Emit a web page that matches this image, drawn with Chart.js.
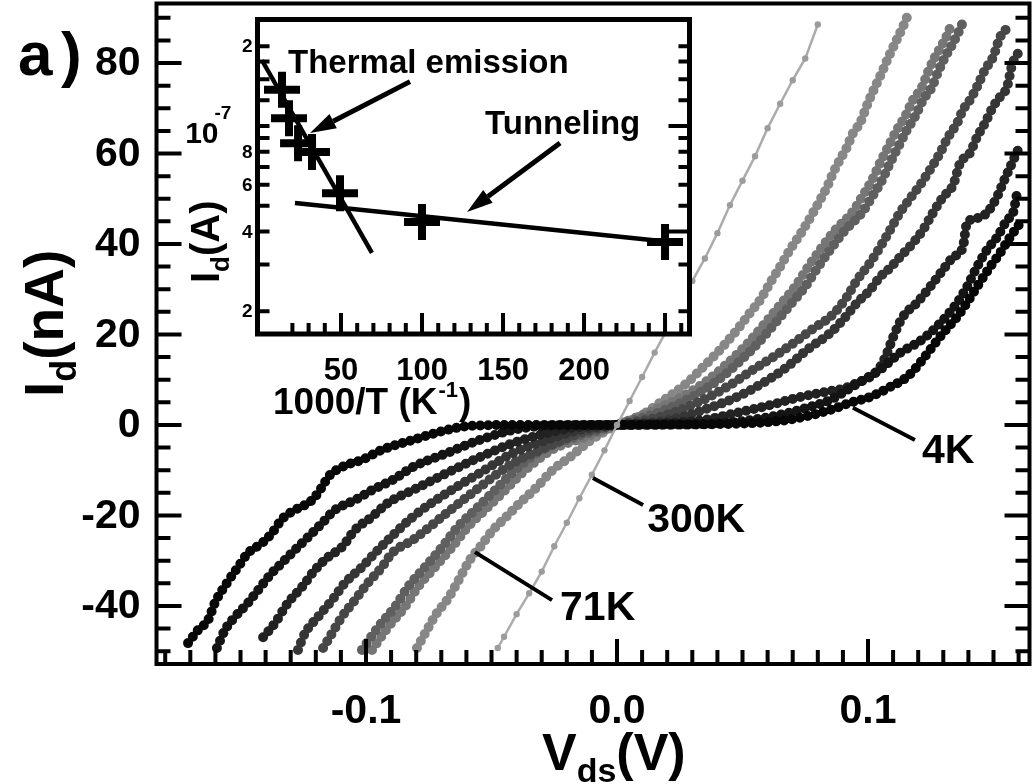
<!DOCTYPE html>
<html>
<head>
<meta charset="utf-8">
<title>Id vs Vds</title>
<script src="https://cdn.jsdelivr.net/npm/chart.js@4.4.1/dist/chart.umd.min.js"></script>
<style>
  html, body { margin: 0; padding: 0; background: #fff; }
  #wrap { position: relative; width: 1036px; height: 784px; overflow: hidden; }
  #main { position: absolute; left: 0; top: 0; }
  #inset { position: absolute; left: 170px; top: 10px; }
</style>
</head>
<body>
<div id="wrap">
  <canvas id="main" width="1036" height="784"></canvas>
  <canvas id="inset" width="530" height="420"></canvas>
</div>
<script>
const FONT = '"Liberation Sans", Arial, Helvetica, sans-serif';

// ---------- Main panel: I-V curves (V in volts, I in nA) ----------
const v300K = [-0.0475, -0.045, -0.040, -0.035, -0.030, -0.025, -0.020, -0.015, -0.010, -0.005, 0, 0.005, 0.010, 0.015, 0.020, 0.025, 0.030, 0.035, 0.040, 0.045, 0.050, 0.055, 0.060, 0.065, 0.070, 0.075, 0.080];
const i300K = [-49.3, -46.8, -41.8, -37.2, -32.4, -26.8, -21.6, -16.2, -11.0, -5.6, 0, 5.3, 10.6, 16.0, 21.2, 26.6, 31.8, 36.8, 42.4, 48.6, 54.0, 59.4, 65.6, 71.0, 76.2, 81.0, 88.5];

const v71K = [-0.0797, -0.0757, -0.0717, -0.0677, -0.0637, -0.0586, -0.0546, -0.0494, -0.0454, -0.0386, -0.0319, -0.0255, -0.0187, -0.0120, -0.0060, 0, 0.0080, 0.0171, 0.0279, 0.0343, 0.0410, 0.0478, 0.0530, 0.0570, 0.0610, 0.0649, 0.0689, 0.0741, 0.0781, 0.0809, 0.0837, 0.0861, 0.0888, 0.0916, 0.0940, 0.0968, 0.1000, 0.1028, 0.1056, 0.1080, 0.1108, 0.1139, 0.1159];
const i71K = [-49.3, -45.3, -41.5, -38.7, -34.9, -29.8, -27.0, -23.2, -21.0, -17.2, -13.7, -9.9, -7.1, -4.0, -1.8, 0, 1.6, 4.9, 9.3, 12.8, 16.6, 21.0, 24.8, 27.6, 31.4, 34.9, 38.7, 43.1, 46.9, 49.7, 52.6, 55.7, 58.6, 61.4, 64.5, 66.7, 71.2, 74.7, 78.0, 81.1, 84.4, 88.0, 90.6];

const vC1 = [-0.0976, -0.0912, -0.0845, -0.0793, -0.0725, -0.0657, -0.0594, -0.0526, -0.0446, -0.0378, -0.0259, -0.0127, 0, 0.0123, 0.0259, 0.0362, 0.0442, 0.0522, 0.0590, 0.0657, 0.0709, 0.0761, 0.0817, 0.0868, 0.0936, 0.0976, 0.1016, 0.1048, 0.1080, 0.1115, 0.1147, 0.1179, 0.1215, 0.1239, 0.1267, 0.1295, 0.1319, 0.1335];
const iC1 = [-49.7, -44.7, -40.2, -35.8, -31.4, -27.0, -22.5, -18.8, -14.4, -10.6, -5.5, -2.7, 0, 2.7, 6.2, 9.9, 13.7, 18.1, 22.5, 27.0, 30.5, 34.9, 39.3, 43.0, 46.9, 50.4, 54.1, 57.9, 61.4, 65.2, 68.1, 71.8, 74.7, 78.0, 81.3, 84.0, 86.6, 89.1];

const vC2 = [-0.1016, -0.0952, -0.0885, -0.0833, -0.0765, -0.0697, -0.0634, -0.0566, -0.0486, -0.0418, -0.0299, -0.0167, 0, 0.0163, 0.0299, 0.0402, 0.0482, 0.0562, 0.0630, 0.0697, 0.0749, 0.0801, 0.0857, 0.0908, 0.0976, 0.1016, 0.1056, 0.1088, 0.1120, 0.1155, 0.1187, 0.1219, 0.1255, 0.1279, 0.1307, 0.1335, 0.1359, 0.1375];
const iC2 = [-49.7, -44.7, -40.2, -35.8, -31.4, -27.0, -22.5, -18.8, -14.4, -10.6, -5.5, -2.7, 0, 2.7, 6.2, 9.9, 13.7, 18.1, 22.5, 27.0, 30.5, 34.9, 39.3, 43.0, 46.9, 50.4, 54.1, 57.9, 61.4, 65.2, 68.1, 71.8, 74.7, 78.0, 81.3, 84.0, 86.6, 88.6];

const vD = [-0.1171, -0.1135, -0.1096, -0.1044, -0.0992, -0.0936, -0.0896, -0.0813, -0.0677, -0.0546, -0.0414, -0.0279, -0.0147, 0, 0.0171, 0.0319, 0.0438, 0.0542, 0.0622, 0.0701, 0.0769, 0.0861, 0.0916, 0.0956, 0.1008, 0.1048, 0.1088, 0.1127, 0.1167, 0.1207, 0.1247, 0.1287, 0.1319, 0.1355, 0.1378, 0.1406, 0.1434, 0.1466, 0.1498, 0.1526, 0.1554];
const iD = [-49.3, -46.0, -42.4, -38.7, -34.9, -31.4, -28.3, -25.4, -19.4, -13.7, -8.4, -4.9, -1.8, 0, 1.8, 4.9, 8.4, 12.2, 15.0, 18.0, 20.8, 24.5, 28.3, 32.0, 35.8, 39.3, 43.1, 46.9, 50.0, 53.0, 56.4, 60.1, 63.6, 66.7, 69.6, 71.8, 74.7, 78.5, 81.3, 85.7, 87.7];

const vE = [-0.1271, -0.1243, -0.1191, -0.1135, -0.1084, -0.1016, -0.0964, -0.0912, -0.0813, -0.0677, -0.0546, -0.0414, -0.0279, -0.0147, 0, 0.0211, 0.0343, 0.0478, 0.0582, 0.0677, 0.0757, 0.0849, 0.0900, 0.0956, 0.1008, 0.1048, 0.1088, 0.1127, 0.1179, 0.1219, 0.1259, 0.1299, 0.1339, 0.1367, 0.1406, 0.1434, 0.1466, 0.1498, 0.1526, 0.1554, 0.1574, 0.1598];
const iE = [-49.7, -46.0, -42.4, -38.7, -34.9, -31.4, -28.3, -25.4, -20.3, -15.0, -10.6, -6.2, -3.3, -1.1, 0, 1.1, 3.3, 6.2, 9.3, 12.8, 16.6, 20.3, 23.2, 27.0, 29.8, 32.7, 34.7, 37.1, 40.2, 43.1, 46.9, 50.4, 53.0, 57.9, 60.1, 63.6, 66.7, 70.3, 72.5, 74.7, 79.6, 82.2];

const vF = [-0.1410, -0.1363, -0.1311, -0.1255, -0.1203, -0.1151, -0.1096, -0.1044, -0.0976, -0.0912, -0.0813, -0.0677, -0.0546, -0.0414, -0.0279, -0.0147, 0, 0.0343, 0.0478, 0.0610, 0.0717, 0.0849, 0.0900, 0.0956, 0.1008, 0.1048, 0.1076, 0.1100, 0.1139, 0.1195, 0.1247, 0.1299, 0.1339, 0.1378, 0.1394, 0.1434, 0.1474, 0.1514, 0.1538, 0.1574, 0.1598];
const iF = [-46.9, -43.8, -39.3, -35.8, -32.0, -29.2, -27.0, -23.2, -20.3, -17.2, -14.4, -10.6, -7.1, -4.0, -1.8, -0.4, 0, 1.1, 2.7, 4.4, 6.0, 7.5, 8.0, 9.3, 10.6, 12.8, 15.9, 19.4, 23.9, 27.0, 30.5, 34.3, 37.1, 39.3, 44.6, 45.7, 46.9, 50.4, 53.5, 57.9, 60.8];

const vG = [-0.1594, -0.1562, -0.1522, -0.1470, -0.1430, -0.1375, -0.1335, -0.1283, -0.1231, -0.1175, -0.1124, -0.1044, -0.0976, -0.0896, -0.0813, -0.0677, -0.0546, -0.0414, -0.0279, 0, 0.0410, 0.0610, 0.0769, 0.0849, 0.0916, 0.0980, 0.1048, 0.1127, 0.1195, 0.1247, 0.1299, 0.1355, 0.1394, 0.1434, 0.1474, 0.1514, 0.1554, 0.1578, 0.1594];
const iG = [-49.3, -45.3, -42.4, -39.3, -36.5, -32.7, -30.5, -27.6, -24.8, -21.7, -18.8, -16.6, -14.4, -12.2, -9.3, -6.2, -3.3, -1.1, -0.2, 0, 0.4, 1.8, 4.0, 5.5, 7.7, 9.9, 12.2, 15.9, 18.1, 20.3, 23.2, 27.0, 30.5, 34.9, 38.7, 41.5, 45.3, 46.9, 51.3];

const v4K = [-0.1709, -0.1669, -0.1629, -0.1602, -0.1554, -0.1510, -0.1470, -0.1414, -0.1375, -0.1331, -0.1283, -0.1215, -0.1175, -0.1151, -0.1096, -0.1016, -0.0936, -0.0813, -0.0677, -0.0586, -0.0400, -0.0200, 0, 0.0200, 0.0410, 0.0677, 0.0849, 0.0928, 0.1008, 0.1088, 0.1155, 0.1207, 0.1247, 0.1299, 0.1355, 0.1394, 0.1434, 0.1486, 0.1526, 0.1566, 0.1606];
const i4K = [-48.2, -45.3, -43.1, -39.3, -34.9, -31.4, -28.3, -26.1, -23.9, -20.6, -18.8, -16.6, -13.7, -11.5, -9.3, -7.7, -5.5, -3.3, -1.1, -0.2, 0, 0, 0, 0.1, 0.2, 1.1, 3.3, 4.9, 6.2, 8.4, 10.6, 13.7, 16.6, 20.3, 23.9, 27.0, 30.5, 34.9, 38.0, 41.5, 44.6];

// axis ticks of the main panel
const xTickLabels = [-0.1, 0.0, 0.1];
const yTickLabels = [-40, -20, 0, 20, 40, 60, 80];

// ---------- Inset: Id at fixed bias vs 1000/T ----------
const insetInvT = [13.6, 17.9, 23.5, 32.1, 49.4, 100.0, 250.0];
const insetId = [1.37e-7, 1.07e-7, 8.6e-8, 7.98e-8, 5.58e-8, 4.34e-8, 3.65e-8];
const thermalFitT = [1.2, 69.1];
const thermalFitI = [1.77e-7, 3.32e-8];
const tunnelFitT = [21.6, 259.3];
const tunnelFitI = [5.12e-8, 3.62e-8];
const insetXTickLabels = [50, 100, 150, 200];
const insetYTickValues = [2e-7, 1e-7, 8e-8, 6e-8, 4e-8, 2e-8];
const insetYTickLabels = ['2', '10', '8', '6', '4', '2'];
const insetYMinor = [2e-7, 1.75e-7, 1.5e-7, 1.25e-7, 1e-7, 9e-8, 8e-8, 7e-8, 6e-8, 5e-8, 4e-8, 3e-8, 2e-8];

// annotation callouts (data coordinates)
const mainNotes = [
  { text: '4K', from: [0.094, 3.8], to: [0.1187, -3.3], at: [0.1215, -8.4] },
  { text: '300K', from: [-0.0096, -11.7], to: [0.0104, -17.7], at: [0.012, -23.6] },
  { text: '71K', from: [-0.0566, -28.1], to: [-0.0259, -38.7], at: [-0.0227, -43.1] }
];
const insetNotes = [
  { text: 'Thermal emission', at: [17.3, 1.585e-7], from: [92.6, 1.47e-7], to: [30.9, 9.4e-8] },
  { text: 'Tunneling', at: [138.9, 9.33e-8], from: [185.2, 8.63e-8], to: [127.8, 4.74e-8] }
];

// --- helpers ---
function pts(v, i) {
  return v.map((vv, k) => ({ x: vv, y: i[k] }));
}

function dotted(label, v, i, color) {
  return {
    label, data: pts(v, i), showLine: true,
    borderColor: color, borderWidth: 10,
    borderDash: [0, 8], borderCapStyle: 'round', borderJoinStyle: 'round',
    cubicInterpolationMode: 'monotone',
    pointRadius: 0, pointHoverRadius: 0
  };
}

// draw a run of text pieces [text, size, dy] from left to right
function runs(ctx, x, y, parts) {
  let cx = x;
  ctx.textAlign = 'left';
  ctx.textBaseline = 'alphabetic';
  for (const [t, size, dy] of parts) {
    ctx.font = `bold ${size}px ${FONT}`;
    ctx.fillText(t, cx, y + dy);
    cx += ctx.measureText(t).width;
  }
  return cx;
}

function arrow(ctx, x1, y1, x2, y2) {
  const ang = Math.atan2(y2 - y1, x2 - x1);
  const hl = 26, hw = 8;
  const bx = x2 - Math.cos(ang) * hl, by = y2 - Math.sin(ang) * hl;
  ctx.beginPath();
  ctx.moveTo(x1, y1);
  ctx.lineTo(bx, by);
  ctx.stroke();
  ctx.beginPath();
  ctx.moveTo(x2, y2);
  ctx.lineTo(bx + Math.sin(ang) * hw, by - Math.cos(ang) * hw);
  ctx.lineTo(bx - Math.sin(ang) * hw, by + Math.cos(ang) * hw);
  ctx.closePath();
  ctx.fill();
}

// ---------- Main decorations ----------
const mainDecor = {
  id: 'mainDecor',
  afterDraw(chart) {
    const { ctx, chartArea: a, scales: { x, y } } = chart;
    ctx.save();
    ctx.strokeStyle = '#000';
    ctx.fillStyle = '#000';
    ctx.lineWidth = 4;
    ctx.lineCap = 'butt';

    // inward ticks: left, right (every 5 nA), bottom (every 10 mV)
    ctx.beginPath();
    for (let v = -50; v <= 90; v += 5) {
      const py = y.getPixelForValue(v);
      const len = v % 20 === 0 ? 25 : 14;
      ctx.moveTo(a.left, py); ctx.lineTo(a.left + len, py);
      ctx.moveTo(a.right, py); ctx.lineTo(a.right - len, py);
    }
    for (let k = -18; k <= 16; k++) {
      const px = x.getPixelForValue(k / 100);
      const len = k % 10 === 0 ? 25 : 14;
      ctx.moveTo(px, a.bottom); ctx.lineTo(px, a.bottom - len);
    }
    ctx.stroke();
    ctx.strokeRect(a.left, a.top, a.right - a.left, a.bottom - a.top);

    // tick labels
    ctx.font = `bold 41px ${FONT}`;
    ctx.textAlign = 'right';
    ctx.textBaseline = 'middle';
    yTickLabels.forEach(v => ctx.fillText(String(v), a.left - 16, y.getPixelForValue(v) + 1));
    ctx.textAlign = 'center';
    ctx.textBaseline = 'alphabetic';
    xTickLabels.forEach(v => ctx.fillText(v.toFixed(1), x.getPixelForValue(v), 723));

    // axis titles
    runs(ctx, 542, 770, [['V', 52, 0], ['ds', 34, 12], ['(V)', 52, 0]]);
    ctx.save();
    ctx.translate(63, 397);
    ctx.rotate(-Math.PI / 2);
    runs(ctx, 0, 0, [['I', 55, 0], ['d', 36, 13], ['(nA)', 55, 0]]);
    ctx.restore();

    // panel letter
    runs(ctx, 18, 75, [['a', 62, 0]]);
    runs(ctx, 61, 75, [[')', 62, 0]]);

    // temperature callouts
    ctx.lineWidth = 4;
    mainNotes.forEach(n => {
      ctx.beginPath();
      ctx.moveTo(x.getPixelForValue(n.from[0]), y.getPixelForValue(n.from[1]));
      ctx.lineTo(x.getPixelForValue(n.to[0]), y.getPixelForValue(n.to[1]));
      ctx.stroke();
      runs(ctx, x.getPixelForValue(n.at[0]), y.getPixelForValue(n.at[1]), [[n.text, 41, 0]]);
    });
    ctx.restore();
  }
};

new Chart(document.getElementById('main'), {
  type: 'scatter',
  data: {
    datasets: [
      {
        label: '300K', data: pts(v300K, i300K), showLine: true,
        borderColor: '#ababab', borderWidth: 2.5,
        pointRadius: 3.2, pointBackgroundColor: '#9c9c9c', pointBorderWidth: 0, pointHoverRadius: 0
      },
      dotted('4K', v4K, i4K, '#070707'),
      dotted('G', vG, iG, '#141414'),
      dotted('F', vF, iF, '#222222'),
      dotted('E', vE, iE, '#353535'),
      dotted('D', vD, iD, '#474747'),
      dotted('C2', vC2, iC2, '#5f5f5f'),
      dotted('C1', vC1, iC1, '#767676'),
      dotted('71K', v71K, i71K, '#878787')
    ]
  },
  options: {
    responsive: false,
    animation: false,
    devicePixelRatio: 1,
    events: [],
    layout: { autoPadding: false, padding: { left: 156.5, right: 6.5, top: 3.5, bottom: 120 } },
    plugins: { legend: { display: false }, tooltip: { enabled: false } },
    scales: {
      x: { type: 'linear', min: -0.18347, max: 0.16434, display: false },
      y: { type: 'linear', min: -52.82, max: 93.15, display: false }
    }
  },
  plugins: [mainDecor]
});

// ---------- Inset decorations ----------
const insetDecor = {
  id: 'insetDecor',
  beforeDatasetsDraw(chart) {
    const { ctx, chartArea: a } = chart;
    ctx.save();
    ctx.fillStyle = '#fff';
    ctx.fillRect(a.left, a.top, a.right - a.left, a.bottom - a.top);
    ctx.restore();
  },
  afterDraw(chart) {
    const { ctx, chartArea: a, scales: { x, y } } = chart;
    ctx.save();
    ctx.strokeStyle = '#000';
    ctx.fillStyle = '#000';
    ctx.lineWidth = 4;

    ctx.beginPath();
    insetYMinor.forEach(v => {
      const py = y.getPixelForValue(v);
      const major = v === 1e-7 || v === 4e-8;
      ctx.moveTo(a.left, py); ctx.lineTo(a.left + 12, py);
      ctx.moveTo(a.right, py); ctx.lineTo(a.right - (major ? 21 : 11), py);
    });
    for (let t = 20; t <= 260; t += 10) {
      const px = x.getPixelForValue(t);
      ctx.moveTo(px, a.bottom); ctx.lineTo(px, a.bottom - (t % 50 === 0 ? 21 : 11));
    }
    ctx.stroke();
    ctx.lineWidth = 5;
    ctx.strokeRect(a.left, a.top, a.right - a.left, a.bottom - a.top);

    // y tick labels
    insetYTickValues.forEach((v, k) => {
      const py = y.getPixelForValue(v);
      if (insetYTickLabels[k] === '10') {
        ctx.font = `bold 30px ${FONT}`;
        ctx.textAlign = 'right';
        ctx.textBaseline = 'alphabetic';
        ctx.fillText('10', a.left - 39, py + 17);
        runs(ctx, a.left - 43, py - 7, [['-7', 19, 0]]);
      } else {
        ctx.font = `bold 19px ${FONT}`;
        ctx.textAlign = 'right';
        ctx.textBaseline = 'middle';
        ctx.fillText(insetYTickLabels[k], a.left - 5, py + 1);
      }
    });

    // x tick labels
    ctx.font = `bold 31px ${FONT}`;
    ctx.textAlign = 'center';
    ctx.textBaseline = 'alphabetic';
    insetXTickLabels.forEach(t => ctx.fillText(String(t), x.getPixelForValue(t), 370));

    // axis titles
    let cx = runs(ctx, 103, 404, [['1000/T (K', 37, 0]]);
    cx = runs(ctx, cx + 1, 404, [['-1', 22, -17]]);
    runs(ctx, cx + 1, 404, [[')', 37, 0]]);
    ctx.save();
    ctx.translate(49, 273);
    ctx.rotate(-Math.PI / 2);
    runs(ctx, 0, 0, [['I', 40, 0], ['d', 26, 10], ['(A)', 40, 0]]);
    ctx.restore();

    // labels with arrows
    ctx.lineWidth = 5;
    insetNotes.forEach(n => {
      runs(ctx, x.getPixelForValue(n.at[0]), y.getPixelForValue(n.at[1]), [[n.text, 33, 0]]);
      arrow(ctx, x.getPixelForValue(n.from[0]), y.getPixelForValue(n.from[1]),
        x.getPixelForValue(n.to[0]), y.getPixelForValue(n.to[1]));
    });
    ctx.restore();
  }
};

new Chart(document.getElementById('inset'), {
  type: 'scatter',
  data: {
    datasets: [
      {
        label: 'Thermal emission fit', data: pts(thermalFitT, thermalFitI), showLine: true,
        borderColor: '#000', borderWidth: 4.5, pointRadius: 0, pointHoverRadius: 0
      },
      {
        label: 'Tunneling fit', data: pts(tunnelFitT, tunnelFitI), showLine: true,
        borderColor: '#000', borderWidth: 4.5, pointRadius: 0, pointHoverRadius: 0
      },
      {
        label: 'Id', data: pts(insetInvT, insetId), showLine: false,
        pointStyle: 'cross', pointRadius: 18, borderWidth: 8, borderColor: '#000', pointHoverRadius: 18
      }
    ]
  },
  options: {
    responsive: false,
    animation: false,
    devicePixelRatio: 1,
    events: [],
    layout: { autoPadding: false, padding: { left: 87.5, top: 9.5, right: 10.5, bottom: 96 } },
    plugins: { legend: { display: false }, tooltip: { enabled: false } },
    scales: {
      x: { type: 'linear', min: -1.54, max: 265.1, display: false },
      y: { type: 'logarithmic', min: 1.641e-8, max: 2.522e-7, display: false }
    }
  },
  plugins: [insetDecor]
});
</script>
</body>
</html>
